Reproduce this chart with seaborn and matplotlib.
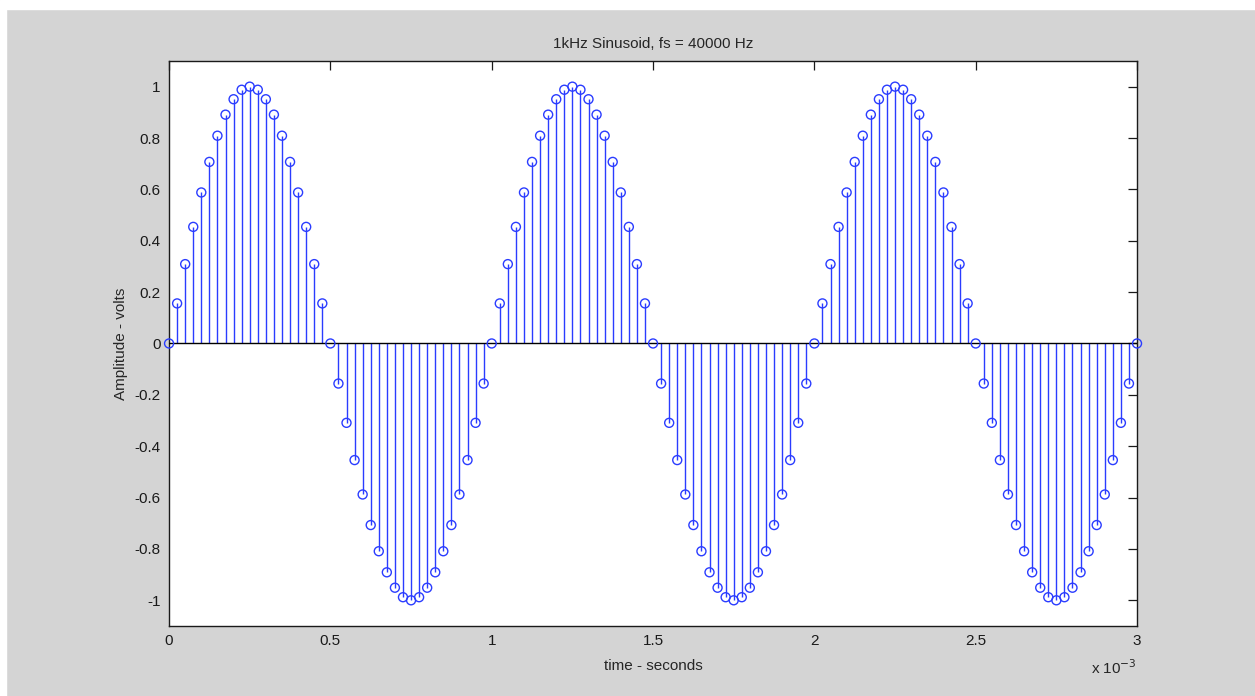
import numpy as np
import pandas as pd
import matplotlib
matplotlib.use("Agg")
import matplotlib.pyplot as plt
import matplotlib.ticker as mticker
from matplotlib.patches import Rectangle
import seaborn as sns

# samples of the 1 kHz sinusoid (3 periods, 40 samples each + last point)
fs = 40000
amplitude = [
    0, 0.156, 0.309, 0.454, 0.588, 0.707, 0.809, 0.891, 0.951, 0.988,
    1, 0.988, 0.951, 0.891, 0.809, 0.707, 0.588, 0.454, 0.309, 0.156,
    0, -0.156, -0.309, -0.454, -0.588, -0.707, -0.809, -0.891, -0.951, -0.988,
    -1, -0.988, -0.951, -0.891, -0.809, -0.707, -0.588, -0.454, -0.309, -0.156,
    0, 0.156, 0.309, 0.454, 0.588, 0.707, 0.809, 0.891, 0.951, 0.988,
    1, 0.988, 0.951, 0.891, 0.809, 0.707, 0.588, 0.454, 0.309, 0.156,
    0, -0.156, -0.309, -0.454, -0.588, -0.707, -0.809, -0.891, -0.951, -0.988,
    -1, -0.988, -0.951, -0.891, -0.809, -0.707, -0.588, -0.454, -0.309, -0.156,
    0, 0.156, 0.309, 0.454, 0.588, 0.707, 0.809, 0.891, 0.951, 0.988,
    1, 0.988, 0.951, 0.891, 0.809, 0.707, 0.588, 0.454, 0.309, 0.156,
    0, -0.156, -0.309, -0.454, -0.588, -0.707, -0.809, -0.891, -0.951, -0.988,
    -1, -0.988, -0.951, -0.891, -0.809, -0.707, -0.588, -0.454, -0.309, -0.156,
    0,
]
time = np.arange(len(amplitude)) / fs
df = pd.DataFrame({"time": time, "amplitude": amplitude})

xticks = [0, 0.5e-3, 1e-3, 1.5e-3, 2e-3, 2.5e-3, 3e-3]
yticks = [-1, -0.8, -0.6, -0.4, -0.2, 0, 0.2, 0.4, 0.6, 0.8, 1]

sns.set_style("white")
plt.rcParams['font.family'] = ['Liberation Sans', 'DejaVu Sans']
plt.rcParams['font.size'] = 11

stem_blue = "#2a3cff"

fig = plt.figure(figsize=(12.55, 6.96), dpi=100, facecolor="#d4d4d4")
ax = fig.add_axes([0.1347, 0.1006, 0.906 - 0.1347, 0.9124 - 0.1006])
ax.set_facecolor("white")

# stems, baseline, markers
ax.vlines(df["time"], 0, df["amplitude"], color=stem_blue, lw=1.0, zorder=2)
ax.axhline(0, color="black", lw=1.0, zorder=3)
sns.scatterplot(data=df, x="time", y="amplitude", ax=ax, s=42, marker="o",
                facecolor="none", edgecolor=stem_blue, linewidth=1.0,
                zorder=4, clip_on=False)

ax.set_xlim(0, 3e-3)
ax.set_ylim(-1.1, 1.1)
ax.set_xticks(xticks)
ax.set_yticks(yticks)
ax.xaxis.set_major_formatter(mticker.FuncFormatter(lambda v, p: f"{v*1e3:g}"))
ax.yaxis.set_major_formatter(mticker.FuncFormatter(lambda v, p: f"{v:g}"))
ax.tick_params(direction="in", length=6.5, width=0.9, top=True, right=True,
               labelsize=11, colors="#1a1a1a", pad=6)
for s in ax.spines.values():
    s.set_color("#1a1a1a")
    s.set_linewidth(1.0)

ax.set_title("1kHz Sinusoid, fs = 40000 Hz", fontsize=11, pad=9)
ax.set_xlabel("time - seconds", fontsize=11, labelpad=8)
ax.set_ylabel("Amplitude - volts", fontsize=11, labelpad=5)
fig.text(1091 / 1255, 1 - 668 / 696, r"x 10$^{-3}$", fontsize=11, va="center", ha="left")

# white window margins of the screenshot
fig.patches.append(Rectangle((0, 1 - 9 / 696), 1, 9 / 696, transform=fig.transFigure,
                             color="white", zorder=0))
fig.patches.append(Rectangle((0, 0), 6 / 1255, 1, transform=fig.transFigure,
                             color="white", zorder=0))

plt.savefig("out.png", dpi=100, facecolor=fig.get_facecolor())
